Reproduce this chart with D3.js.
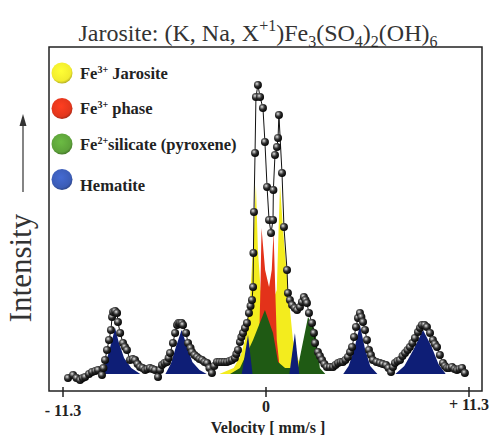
<!DOCTYPE html>
<html>
<head>
<meta charset="utf-8">
<script src="https://cdn.jsdelivr.net/npm/d3@7"></script>
<style>
  body { margin: 0; background: #fff; }
  svg { display: block; }
</style>
</head>
<body>
<svg id="chart"></svg>
<script>
// measured spectrum: [velocity mm/s, intensity a.u.]
const spectrum = [
  [-11.02, 2], [-10.74, 5], [-10.55, 2], [-10.35, 0], [-10.2, 2], [-10.07, 3], [-9.85, 6], [-9.68, 8],
  [-9.5, 9], [-9.35, 10], [-9.13, 5], [-9.05, 12],
  [-8.96, 20], [-8.85, 30], [-8.74, 40], [-8.63, 50], [-8.57, 63], [-8.51, 68], [-8.4, 69], [-8.29, 67],
  [-8.24, 58], [-8.12, 47], [-7.96, 37], [-7.85, 33], [-7.74, 30], [-7.57, 20], [-7.42, 21], [-7.29, 20], [-7.15, 16], [-7.01, 13],
  [-6.87, 12], [-6.73, 10], [-6.6, 11], [-6.46, 12], [-6.32, 11], [-6.18, 10], [-6.01, 3], [-5.9, 10], [-5.79, 15], [-5.65, 17], [-5.51, 18], [-5.42, 22], [-5.34, 27],
  [-5.18, 37], [-5.06, 47], [-4.95, 55], [-4.87, 57], [-4.79, 57], [-4.7, 57], [-4.62, 55], [-4.45, 47], [-4.34, 37],
  [-4.2, 32], [-4.12, 28], [-3.98, 25], [-3.84, 23], [-3.7, 21], [-3.56, 20], [-3.42, 18], [-3.28, 17], [-3.15, 12], [-3.01, 7], [-2.88, 14], [-2.73, 18], [-2.59, 18], [-2.45, 18],
  [-2.31, 18], [-2.17, 18], [-2.03, 19], [-1.89, 20], [-1.73, 22], [-1.65, 26], [-1.56, 30], [-1.45, 38], [-1.37, 43], [-1.28, 47], [-1.17, 52], [-1.06, 57],
  [-0.95, 67], [-0.86, 74], [-0.78, 80], [-0.72, 93], [-0.70, 127], [-0.67, 168], [-0.61, 227], [-0.56, 283],
  [-0.45, 295], [-0.33, 283], [-0.17, 272], [-0.06, 238], [0.06, 193], [0.17, 160], [0.28, 147],
  [0.39, 160], [0.41, 190], [0.50, 225], [0.61, 233], [0.67, 242], [0.72, 265], [0.89, 207],
  [1.00, 153], [1.17, 110], [1.22, 87], [1.33, 80], [1.45, 75], [1.6, 72], [1.73, 70], [1.89, 73], [2.0, 78], [2.11, 83],
  [2.2, 80], [2.28, 77], [2.39, 67], [2.56, 57], [2.67, 47], [2.73, 37], [2.89, 28], [3.0, 24], [3.12, 20],
  [3.25, 16], [3.39, 13], [3.56, 13], [3.73, 13], [3.87, 15], [4.01, 17], [4.15, 18], [4.28, 18], [4.42, 20], [4.56, 23], [4.68, 28], [4.79, 33], [4.90, 43],
  [5.01, 53], [5.12, 62], [5.23, 67], [5.31, 63], [5.40, 58], [5.51, 50], [5.62, 40], [5.73, 30],
  [5.84, 25], [5.95, 20], [6.15, 18], [6.34, 17], [6.5, 16], [6.68, 15], [6.82, 12], [6.96, 8], [7.07, 13], [7.18, 17], [7.32, 19], [7.46, 20], [7.6, 24], [7.74, 27],
  [7.88, 30], [8.01, 33], [8.15, 37], [8.29, 42], [8.46, 48], [8.57, 52], [8.68, 55], [8.82, 55], [8.96, 53], [9.13, 47], [9.29, 40],
  [9.4, 36], [9.52, 33], [9.68, 25], [9.85, 17], [9.96, 14], [10.07, 12], [10.2, 12], [10.35, 13], [10.5, 11], [10.63, 10], [10.77, 11], [10.91, 12],
  [11.07, 7]
];

// fitted sub-spectra
const baseline = 6;
const jarosite = [
  [-2.6, 6], [-1.8, 12], [-1.4, 25], [-1.17, 40], [-0.89, 80], [-0.67, 150], [-0.56, 195],
  [-0.45, 130], [-0.3, 90], [0.2, 70], [0.6, 90], [0.7, 150], [0.78, 195], [0.95, 150],
  [1.28, 80], [1.5, 40], [1.8, 20], [2.2, 10], [2.8, 6]
];
const fe3Phase = [
  [-0.55, 6], [-0.38, 40], [-0.3, 100], [-0.25, 152], [-0.05, 110], [0.17, 93],
  [0.32, 110], [0.42, 148], [0.5, 100], [0.6, 40], [0.8, 6]
];
const pyroxene = [
  [-2.0, 6], [-1.45, 12], [-0.72, 40], [-0.06, 70], [0.39, 47], [0.67, 18], [1.06, 12],
  [1.78, 12], [1.89, 23], [2.34, 63], [2.73, 50], [3.0, 12], [3.3, 6]
];
const hematite = [
  [[-9.2, 6], [-8.9, 18], [-8.6, 38], [-8.4, 52], [-8.2, 38], [-7.9, 22], [-7.5, 12], [-7.0, 6]],
  [[-5.6, 6], [-5.3, 16], [-5.0, 34], [-4.7, 50], [-4.4, 34], [-4.1, 18], [-3.7, 10], [-3.3, 6]],
  [[-1.35, 6], [-1.0, 45], [-0.75, 6]],
  [[1.3, 6], [1.61, 47], [1.85, 6]],
  [[4.3, 6], [4.6, 14], [4.9, 30], [5.23, 55], [5.5, 32], [5.8, 14], [6.2, 6]],
  [[7.2, 6], [7.7, 14], [8.2, 30], [8.74, 50], [9.2, 34], [9.6, 16], [10.0, 6]]
];

const legendItems = [
  { sup: "3+", name: " Jarosite", color: "#f2ec2e" },
  { sup: "3+", name: " phase", color: "#e2361c" },
  { sup: "2+", name: "silicate (pyroxene)", color: "#5da23a" },
  { sup: "", name: "Hematite", color: "#3b5cb6" }
];
const xTicks = [-11.3, 0, 11.3];
const xTickLabels = ["- 11.3", "0", "+ 11.3"];

const width = 491, height = 435;
const box = { left: 49, top: 47, right: 482, bottom: 391 };

const svg = d3.select("#chart").attr("width", width).attr("height", height);
const serif = "'Liberation Serif', 'DejaVu Serif', serif";

const x = d3.scaleLinear().domain([-11.3, 11.3]).range([63, 469]);
const y = d3.scaleLinear().domain([0, 300]).range([380, 80]);

const defs = svg.append("defs");
const ball = defs.append("radialGradient").attr("id", "ball")
  .attr("cx", "38%").attr("cy", "35%").attr("r", "65%");
ball.append("stop").attr("offset", "0%").attr("stop-color", "#f4f4f4");
ball.append("stop").attr("offset", "22%").attr("stop-color", "#8a8a8a");
ball.append("stop").attr("offset", "55%").attr("stop-color", "#2a2a2a");
ball.append("stop").attr("offset", "100%").attr("stop-color", "#050505");

legendItems.forEach((d, i) => {
  const g = defs.append("radialGradient").attr("id", "leg" + i)
    .attr("cx", "45%").attr("cy", "40%").attr("r", "60%");
  g.append("stop").attr("offset", "0%").attr("stop-color", d3.color(d.color).brighter(0.4));
  g.append("stop").attr("offset", "80%").attr("stop-color", d.color);
  g.append("stop").attr("offset", "100%").attr("stop-color", d3.color(d.color).darker(0.8));
});

// title
const title = svg.append("text")
  .attr("x", 258).attr("y", 41)
  .attr("text-anchor", "middle")
  .style("font-family", serif).style("font-size", "24px").attr("fill", "#333");
title.append("tspan").text("Jarosite: (K, Na, X");
title.append("tspan").attr("dy", -10).style("font-size", "16px").text("+1");
title.append("tspan").attr("dy", 10).text(")Fe");
title.append("tspan").attr("dy", 6).style("font-size", "16px").text("3");
title.append("tspan").attr("dy", -6).text("(SO");
title.append("tspan").attr("dy", 6).style("font-size", "16px").text("4");
title.append("tspan").attr("dy", -6).text(")");
title.append("tspan").attr("dy", 6).style("font-size", "16px").text("2");
title.append("tspan").attr("dy", -6).text("(OH)");
title.append("tspan").attr("dy", 6).style("font-size", "16px").text("6");

// sub-spectra areas
const area = d3.area()
  .x(d => x(d[0]))
  .y0(y(baseline))
  .y1(d => y(d[1]));

const plot = svg.append("g");
plot.append("path").datum(jarosite).attr("d", area).attr("fill", "#f3ec1e");
plot.append("path").datum(fe3Phase).attr("d", area).attr("fill", "#e3321a");
plot.append("path").datum(pyroxene).attr("d", area).attr("fill", "#1f5a14");
plot.selectAll(".hem").data(hematite).join("path")
  .attr("class", "hem").attr("d", area).attr("fill", "#0e1e76");

// measured line + markers
plot.append("path").datum(spectrum)
  .attr("d", d3.line().x(d => x(d[0])).y(d => y(d[1])))
  .attr("fill", "none").attr("stroke", "#111").attr("stroke-width", 1);

plot.selectAll("circle.pt").data(spectrum).join("circle")
  .attr("class", "pt")
  .attr("cx", d => x(d[0])).attr("cy", d => y(d[1]))
  .attr("r", 4).attr("fill", "url(#ball)");

// frame
svg.append("rect")
  .attr("x", box.left).attr("y", box.top)
  .attr("width", box.right - box.left).attr("height", box.bottom - box.top)
  .attr("fill", "none").attr("stroke", "#222").attr("stroke-width", 1.5);

// x ticks
const xAxis = svg.append("g");
xAxis.selectAll("line").data(xTicks).join("line")
  .attr("x1", d => x(d)).attr("x2", d => x(d))
  .attr("y1", box.bottom - 4).attr("y2", box.bottom + 6)
  .attr("stroke", "#222").attr("stroke-width", 1.5);
xAxis.selectAll("text").data(xTicks).join("text")
  .attr("x", d => x(d))
  .attr("y", (d, i) => [416, 412, 410][i])
  .attr("text-anchor", "middle")
  .style("font-family", serif).style("font-size", "16px").style("font-weight", "bold")
  .attr("fill", "#222")
  .text((d, i) => xTickLabels[i]);

svg.append("text")
  .attr("x", 268).attr("y", 433)
  .attr("text-anchor", "middle")
  .style("font-family", serif).style("font-size", "16px").style("font-weight", "bold")
  .attr("fill", "#222")
  .text("Velocity [ mm/s ]");

// y label with arrow
svg.append("text")
  .attr("transform", "translate(31, 268) rotate(-90)")
  .attr("text-anchor", "middle")
  .style("font-family", serif).style("font-size", "31px")
  .attr("fill", "#333")
  .text("Intensity");
svg.append("line")
  .attr("x1", 23).attr("x2", 23).attr("y1", 192).attr("y2", 124)
  .attr("stroke", "#333").attr("stroke-width", 1.2);
svg.append("path")
  .attr("d", "M23,114 L19.5,126 L26.5,126 Z")
  .attr("fill", "#333");

// legend
const legend = svg.append("g");
const rows = legend.selectAll("g").data(legendItems).join("g")
  .attr("transform", (d, i) => `translate(62, ${73 + i * 35.5})`);
rows.append("circle").attr("r", 10.5)
  .attr("fill", (d, i) => `url(#leg${i})`);
const lt = rows.append("text")
  .attr("x", 18).attr("y", 5.5)
  .style("font-family", serif).style("font-size", "16.5px").style("font-weight", "bold")
  .attr("fill", "#222");
lt.append("tspan").text(d => d.sup ? "Fe" : "");
lt.append("tspan").attr("dy", -6).style("font-size", "10px").text(d => d.sup);
lt.append("tspan").attr("dy", 6).text(d => d.name);
</script>
</body>
</html>
